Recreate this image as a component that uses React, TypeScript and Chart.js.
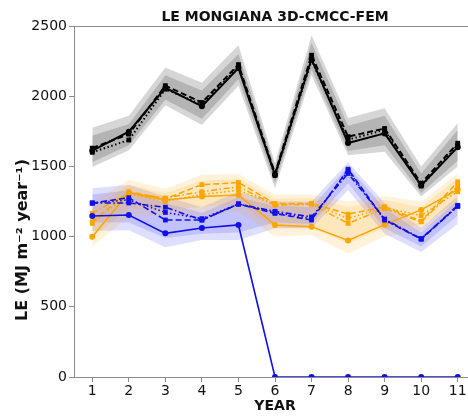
import React, { useEffect, useRef } from "react";
import { Chart, registerables } from "chart.js";

Chart.register(...registerables);

// Simulation years
const YEARS = [1, 2, 3, 4, 5, 6, 7, 8, 9, 10, 11];
const Y_TICKS = [0, 500, 1000, 1500, 2000, 2500];

// Black ensemble (three runs)
const BLACK_SOLID = [1612, 1747, 2060, 1928, 2200, 1440, 2265, 1667, 1735, 1365, 1637];
const BLACK_DASHED = [1630, 1730, 2075, 1955, 2225, 1450, 2292, 1712, 1770, 1380, 1665];
const BLACK_DOTTED = [1600, 1688, 2050, 1940, 2210, 1435, 2255, 1690, 1760, 1360, 1650];
const BLACK_OUTER_HI = [1775, 1860, 2205, 2095, 2365, 1525, 2435, 1845, 1915, 1500, 1810];
const BLACK_OUTER_LO = [1495, 1615, 1935, 1795, 2075, 1345, 2150, 1580, 1605, 1285, 1500];
const BLACK_INNER_HI = [1720, 1800, 2150, 2040, 2300, 1490, 2380, 1790, 1860, 1450, 1760];
const BLACK_INNER_LO = [1530, 1650, 1975, 1840, 2120, 1380, 2190, 1610, 1650, 1310, 1540];

// Orange ensemble (four runs)
const ORANGE_SOLID = [999, 1313, 1260, 1285, 1296, 1083, 1071, 973, 1085, 1190, 1335];
const ORANGE_DASHED = [1106, 1320, 1270, 1370, 1385, 1235, 1237, 1160, 1213, 1110, 1390];
const ORANGE_DASHDOT = [1166, 1310, 1275, 1320, 1355, 1225, 1230, 1094, 1200, 1105, 1360];
const ORANGE_DOTTED = [1094, 1305, 1250, 1300, 1330, 1225, 1235, 1130, 1205, 1150, 1320];
const ORANGE_OUTER_HI = [1250, 1405, 1340, 1440, 1445, 1300, 1300, 1250, 1290, 1250, 1450];
const ORANGE_OUTER_LO = [930, 1140, 1150, 1150, 1180, 1000, 1010, 880, 1000, 1040, 1200];
const ORANGE_INNER_HI = [1200, 1370, 1310, 1400, 1410, 1270, 1275, 1210, 1260, 1210, 1420];
const ORANGE_INNER_LO = [990, 1200, 1190, 1210, 1230, 1060, 1060, 950, 1060, 1080, 1250];

// Blue ensemble (four runs, one collapses after year 5)
const BLUE_SOLID = [1147, 1154, 1023, 1061, 1083, 0, 0, 0, 0, 0, 0];
const BLUE_DASHED = [1239, 1277, 1118, 1118, 1232, 1165, 1118, 1480, 1120, 981, 1218];
const BLUE_DASHDOT = [1239, 1240, 1209, 1118, 1232, 1180, 1140, 1450, 1125, 985, 1222];
const BLUE_DOTTED = [1239, 1262, 1172, 1128, 1232, 1172, 1128, 1470, 1118, 985, 1215];
const BLUE_OUTER_HI = [1345, 1370, 1285, 1210, 1320, 1250, 1250, 1530, 1240, 1065, 1290];
const BLUE_OUTER_LO = [1040, 1045, 925, 975, 975, 1060, 1060, 1330, 1020, 890, 1090];
const BLUE_INNER_HI = [1300, 1330, 1240, 1170, 1280, 1220, 1210, 1500, 1200, 1030, 1260];
const BLUE_INNER_LO = [1100, 1100, 990, 1020, 1030, 1100, 1090, 1380, 1060, 930, 1150];

const BLACK = "#000000";
const ORANGE = "#ffa500";
const BLUE = "#1010e8";

const DASHED = [6, 3];
const DOTTED = [1.5, 2.5];
const DASHDOT = [6, 2.5, 1.5, 2.5];

const pts = (vals: number[]) => YEARS.map((x, i) => ({ x, y: vals[i] }));

function band(hi: number[], lo: number[], color: string) {
  return [
    { data: pts(hi), borderWidth: 0, pointRadius: 0, fill: false, order: 10, borderColor: "transparent" },
    { data: pts(lo), borderWidth: 0, pointRadius: 0, fill: "-1", backgroundColor: color, order: 10, borderColor: "transparent" },
  ];
}

function line(vals: number[], color: string, dash: number[], style: string, order: number, width: number) {
  return {
    data: pts(vals),
    borderColor: color,
    borderWidth: width,
    borderDash: dash,
    pointStyle: style,
    pointRadius: style === "rect" ? 3.4 : 3,
    pointBackgroundColor: color,
    pointBorderColor: color,
    pointBorderWidth: 0,
    tension: 0,
    fill: false,
    order,
  };
}

const decor = {
  id: "decor",
  afterDraw(chart: any) {
    const { ctx, chartArea } = chart;
    const { left, right, top } = chartArea;
    ctx.save();
    // top frame line
    ctx.strokeStyle = "#8c8c8c";
    ctx.lineWidth = 1;
    ctx.beginPath();
    ctx.moveTo(left, top + 0.5);
    ctx.lineTo(right, top + 0.5);
    ctx.stroke();

    ctx.fillStyle = "#111";
    ctx.font = "bold 14px 'DejaVu Sans'";
    ctx.textAlign = "center";
    ctx.textBaseline = "alphabetic";
    ctx.fillText("LE MONGIANA 3D-CMCC-FEM", (left + right) / 2, 21);
    ctx.fillText("YEAR", (left + right) / 2, 410);

    ctx.translate(27, 240);
    ctx.rotate(-Math.PI / 2);
    ctx.font = "bold 16px 'DejaVu Sans'";
    ctx.fillText("LE (MJ m\u207B\u00B2 year\u207B\u00B9)", 0, 0);
    ctx.restore();
  },
};

export default function App() {
  const ref = useRef<HTMLCanvasElement>(null);

  useEffect(() => {
    const canvas = ref.current;
    if (!canvas) return;
    const datasets: any[] = [
      ...band(BLACK_OUTER_HI, BLACK_OUTER_LO, "rgba(0,0,0,0.16)"),
      ...band(BLACK_INNER_HI, BLACK_INNER_LO, "rgba(0,0,0,0.16)"),
      ...band(ORANGE_OUTER_HI, ORANGE_OUTER_LO, "rgba(255,165,0,0.14)"),
      ...band(ORANGE_INNER_HI, ORANGE_INNER_LO, "rgba(255,165,0,0.14)"),
      ...band(BLUE_OUTER_HI, BLUE_OUTER_LO, "rgba(0,0,255,0.13)"),
      ...band(BLUE_INNER_HI, BLUE_INNER_LO, "rgba(0,0,255,0.13)"),
      line(ORANGE_SOLID, ORANGE, [], "circle", 5, 1.5),
      line(ORANGE_DASHED, ORANGE, DASHED, "rect", 5, 1.5),
      line(ORANGE_DASHDOT, ORANGE, DASHDOT, "rect", 5, 1.5),
      line(ORANGE_DOTTED, ORANGE, DOTTED, "rect", 5, 1.5),
      line(BLUE_SOLID, BLUE, [], "circle", 4, 1.6),
      line(BLUE_DASHED, BLUE, DASHED, "rect", 4, 1.6),
      line(BLUE_DASHDOT, BLUE, DASHDOT, "rect", 4, 1.6),
      line(BLUE_DOTTED, BLUE, DOTTED, "rect", 4, 1.6),
      line(BLACK_SOLID, BLACK, [], "circle", 3, 2),
      line(BLACK_DASHED, BLACK, DASHED, "rect", 3, 2),
      line(BLACK_DOTTED, BLACK, DOTTED, "rect", 3, 2),
    ];

    const chart = new Chart(canvas, {
      type: "line",
      data: { datasets },
      options: {
        animation: false,
        responsive: false,
        devicePixelRatio: 1,
        layout: { padding: { top: 26, right: 4, left: 0, bottom: 0 } },
        plugins: {
          legend: { display: false },
          tooltip: { enabled: false },
          title: { display: false },
        },
        scales: {
          x: {
            type: "linear",
            min: 0.5,
            max: 11.5,
            afterBuildTicks: (s: any) => {
              s.ticks = YEARS.map((v) => ({ value: v }));
            },
            afterFit: (s: any) => {
              s.height = 39;
            },
            grid: {
              display: true,
              drawOnChartArea: false,
              drawTicks: true,
              tickLength: 5,
              color: "#8c8c8c",
              tickColor: "#8c8c8c",
            },
            border: { display: true, color: "#8c8c8c", width: 1 },
            ticks: {
              font: { family: "'DejaVu Sans'", size: 14 },
              color: "#111",
              padding: 1,
              maxRotation: 0,
              autoSkip: false,
              callback: (v: any) => String(v),
            },
          },
          y: {
            type: "linear",
            min: 0,
            max: 2500,
            afterBuildTicks: (s: any) => {
              s.ticks = Y_TICKS.map((v) => ({ value: v }));
            },
            afterFit: (s: any) => {
              s.width = 74;
            },
            grid: {
              display: true,
              drawOnChartArea: false,
              drawTicks: true,
              tickLength: 5,
              color: "#8c8c8c",
              tickColor: "#8c8c8c",
            },
            border: { display: true, color: "#8c8c8c", width: 1 },
            ticks: {
              font: { family: "'DejaVu Sans'", size: 14 },
              color: "#111",
              padding: 2,
              callback: (v: any) => String(v),
            },
          },
        },
      },
      plugins: [decor],
    } as any);

    return () => chart.destroy();
  }, []);

  return (
    <div
      style={{
        position: "fixed",
        left: 0,
        top: 0,
        width: 468,
        height: 416,
        overflow: "hidden",
        background: "#fff",
      }}
    >
      <canvas ref={ref} width={480} height={416} style={{ display: "block" }} />
    </div>
  );
}
